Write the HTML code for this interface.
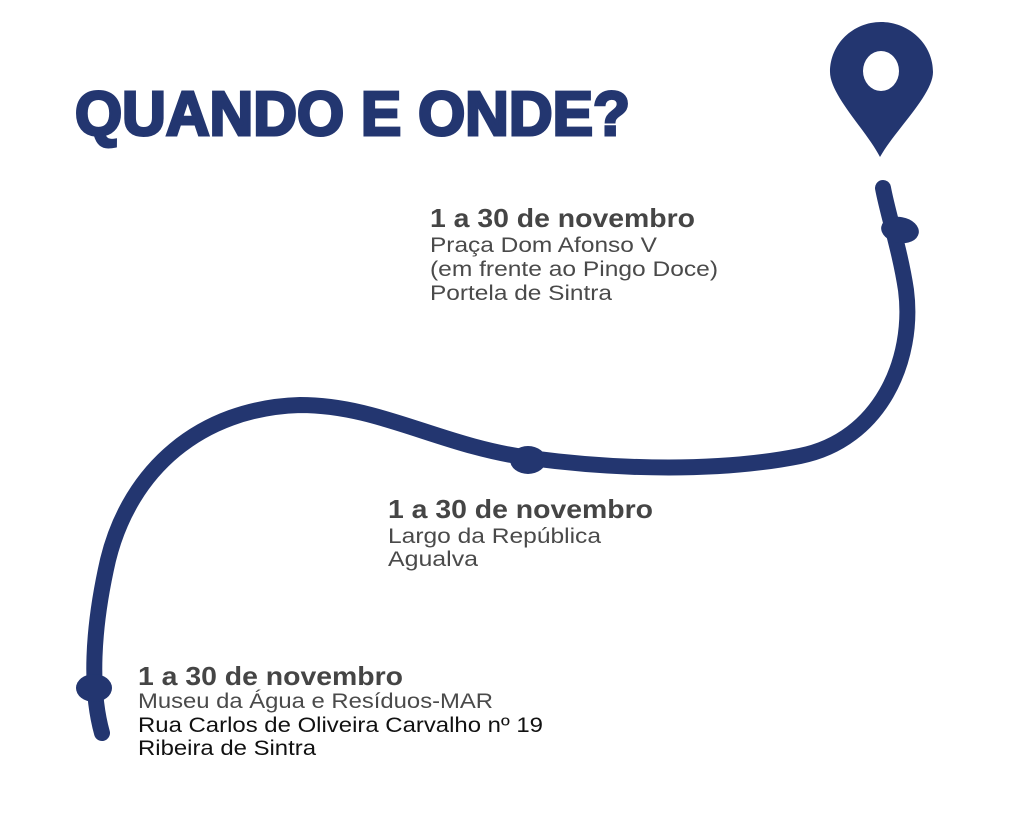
<!DOCTYPE html>
<html><head><meta charset="utf-8"><style>
html,body{margin:0;padding:0;background:#fff;}
svg{display:block}
.d{font-family:"Liberation Sans",sans-serif;font-weight:bold;font-size:26px;fill:#454545}
.t{font-family:"Liberation Sans",sans-serif;font-size:21px;fill:#4a4a4a}
.k{font-family:"Liberation Sans",sans-serif;font-size:21px;fill:#111}
</style></head><body>
<svg width="1024" height="821" viewBox="0 0 1024 821" xmlns="http://www.w3.org/2000/svg">
<text x="75" y="135" font-family="Liberation Sans,sans-serif" font-weight="900" font-size="62" fill="#233670" stroke="#233670" stroke-width="3" textLength="555" lengthAdjust="spacingAndGlyphs">QUANDO E ONDE?</text>
<path d="M880 157 C866 130 830 95 830 72 C830 44 853 22 881 22 C909 22 933 44 933 72 C933 95 895 130 880 157 Z" fill="#233670"/>
<ellipse cx="881" cy="71" rx="18" ry="20" fill="#fff"/>
<path d="M883 188 C888 215 900 250 906 290 C915 360 880 440 800 456 C720 472 620 470 530 458 C440 446 380 405 300 405 C200 408 130 470 108 560 C92 630 90 690 102 733" fill="none" stroke="#233670" stroke-width="16" stroke-linecap="round"/>
<ellipse cx="900" cy="230" rx="19" ry="13" fill="#233670" transform="rotate(10 900 230)"/>
<ellipse cx="528" cy="460" rx="18" ry="14" fill="#233670"/>
<ellipse cx="94" cy="688" rx="18" ry="14" fill="#233670"/>
<text class="d" x="430" y="227" textLength="265" lengthAdjust="spacingAndGlyphs">1 a 30 de novembro</text>
<text class="t" x="430" y="252" textLength="227" lengthAdjust="spacingAndGlyphs">Praça Dom Afonso V</text>
<text class="t" x="430" y="276" textLength="288" lengthAdjust="spacingAndGlyphs">(em frente ao Pingo Doce)</text>
<text class="t" x="430" y="300" textLength="182" lengthAdjust="spacingAndGlyphs">Portela de Sintra</text>
<text class="d" x="388" y="518" textLength="265" lengthAdjust="spacingAndGlyphs">1 a 30 de novembro</text>
<text class="t" x="388" y="543" textLength="213" lengthAdjust="spacingAndGlyphs">Largo da República</text>
<text class="t" x="388" y="566" textLength="90" lengthAdjust="spacingAndGlyphs">Agualva</text>
<text class="d" x="138" y="685" textLength="265" lengthAdjust="spacingAndGlyphs">1 a 30 de novembro</text>
<text class="t" x="138" y="708" textLength="355" lengthAdjust="spacingAndGlyphs">Museu da Água e Resíduos-MAR</text>
<text class="k" x="138" y="732" textLength="405" lengthAdjust="spacingAndGlyphs">Rua Carlos de Oliveira Carvalho nº 19</text>
<text class="k" x="138" y="755" textLength="178" lengthAdjust="spacingAndGlyphs">Ribeira de Sintra</text>
</svg>
</body></html>
